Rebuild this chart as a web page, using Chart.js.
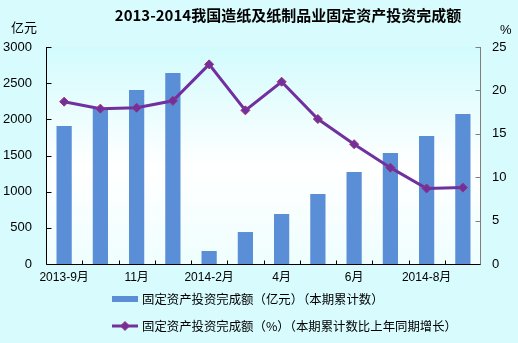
<!DOCTYPE html>
<html>
<head>
<meta charset="utf-8">
<script src="https://cdn.jsdelivr.net/npm/chart.js@4/dist/chart.umd.min.js"></script>
<style>
  html, body { margin: 0; padding: 0; background: #d8fbfd; }
  #wrap { position: relative; width: 518px; height: 343px; background: #d8fbfd; }
  canvas { position: absolute; left: 0; top: 0; }
  .legend { position: absolute; left: 112px; font: 12.4px "Noto Sans CJK SC", sans-serif; color: #000; }
  .legend .row { position: absolute; left: 0; white-space: nowrap; height: 16px; line-height: 16px; }
  .legend .sym { position: absolute; left: 0; top: 0; width: 26px; height: 16px; }
  .legend .txt { position: absolute; left: 30px; top: 0; }
</style>
</head>
<body>
<div id="wrap">
  <canvas id="c" width="518" height="343"></canvas>
  <div class="legend" id="legend"></div>
</div>
<script>
// Months (cumulative reporting periods)
const categories = ['2013-9月', '10月', '11月', '12月', '2014-2月', '3月', '4月', '5月', '6月', '7月', '2014-8月', '9月'];
// Fixed-asset investment completed, cumulative (100 million yuan)
const investment = [1908, 2143, 2405, 2641, 180, 442, 691, 968, 1272, 1535, 1770, 2074];
// Year-on-year growth of cumulative investment (%)
const growth = [18.7, 17.9, 18.0, 18.8, 23.0, 17.7, 21.0, 16.7, 13.8, 11.1, 8.7, 8.8];
const leftTicks = [0, 500, 1000, 1500, 2000, 2500, 3000];
const rightTicks = [0, 5, 10, 15, 20, 25];

const title = '2013-2014我国造纸及纸制品业固定资产投资完成额';
const barLabel = '固定资产投资完成额（亿元）（本期累计数）';
const lineLabel = '固定资产投资完成额（%）（本期累计数比上年同期增长）';
const leftUnit = '亿元';
const rightUnit = '%';

const BAR = '#5a8ed6';
const LINE = '#7030a0';
const MARK = '#a0306c';
const FONT = 'Arial, "Liberation Sans", "Noto Sans CJK SC", sans-serif';

// Plot-area gradient, axis lines with inner tick marks, title and units
const decor = {
  id: 'decor',
  beforeDatasetsDraw(chart) {
    const { ctx, chartArea: a } = chart;
    const g = ctx.createLinearGradient(0, a.top, 0, a.bottom);
    g.addColorStop(0, '#d2fbfd');
    g.addColorStop(0.55, '#ffffff');
    g.addColorStop(1, '#effefe');
    ctx.save();
    ctx.fillStyle = g;
    ctx.fillRect(a.left, a.top, a.right - a.left, a.bottom - a.top);
    ctx.restore();
  },
  afterDraw(chart) {
    const { ctx, chartArea: a, scales } = chart;
    ctx.save();
    ctx.lineWidth = 1;
    const L = Math.round(a.left) + 0.5;
    const R = Math.round(a.right) - 0.5;
    const B = Math.round(a.bottom) + 0.5;
    // left axis
    ctx.strokeStyle = '#000000';
    ctx.beginPath();
    ctx.moveTo(L, a.top);
    ctx.lineTo(L, B);
    leftTicks.forEach(v => {
      const y = Math.round(scales.y.getPixelForValue(v)) + 0.5;
      ctx.moveTo(L, y); ctx.lineTo(L + 5, y);
    });
    ctx.stroke();
    // right axis
    ctx.strokeStyle = '#7f7f7f';
    ctx.beginPath();
    ctx.moveTo(R, a.top);
    ctx.lineTo(R, B);
    rightTicks.forEach(v => {
      const y = Math.round(scales.y1.getPixelForValue(v)) + 0.5;
      ctx.moveTo(R, y); ctx.lineTo(R - 5, y);
    });
    ctx.stroke();
    // bottom axis with ticks between categories
    ctx.strokeStyle = '#000000';
    ctx.beginPath();
    ctx.moveTo(L, B);
    ctx.lineTo(R, B);
    for (let i = 1; i < categories.length; i++) {
      const x = Math.round((scales.x.getPixelForValue(i - 1) + scales.x.getPixelForValue(i)) / 2) + 0.5;
      ctx.moveTo(x, B); ctx.lineTo(x, B - 4);
    }
    ctx.stroke();

    ctx.fillStyle = '#000';
    ctx.textBaseline = 'middle';
    ctx.textAlign = 'center';
    ctx.font = 'bold 15px "Noto Sans CJK SC", sans-serif';
    ctx.fillText(title, 288, 15);
    ctx.font = '13px "Noto Sans CJK SC", sans-serif';
    ctx.textAlign = 'left';
    ctx.fillText(leftUnit, 11, 27);
    ctx.font = '13px ' + FONT;
    ctx.fillText(rightUnit, 500, 30);
    ctx.restore();
  }
};

const chart = new Chart(document.getElementById('c'), {
  data: {
    labels: categories,
    datasets: [
      {
        type: 'line', label: lineLabel, data: growth, yAxisID: 'y1', order: 0,
        borderColor: LINE, borderWidth: 3, pointStyle: 'rectRot', pointRadius: 4.5,
        pointBackgroundColor: LINE, pointBorderColor: MARK, pointBorderWidth: 1,
        tension: 0
      },
      {
        type: 'bar', label: barLabel, data: investment, yAxisID: 'y', order: 1,
        backgroundColor: BAR, barPercentage: 0.42, categoryPercentage: 1
      }
    ]
  },
  options: {
    responsive: false,
    animation: false,
    layout: { padding: { top: 47, bottom: 54, left: 0, right: 0 } },
    plugins: { legend: { display: false }, tooltip: { enabled: false } },
    scales: {
      x: {
        grid: { display: false, drawTicks: false },
        border: { display: false },
        ticks: {
          autoSkip: false, maxRotation: 0, padding: 6,
          color: '#000', font: { family: FONT, size: 12 },
          callback: (v, i) => (i % 2 === 0 ? categories[i] : '')
        },
        afterFit(s) { s.height = 25; }
      },
      y: {
        position: 'left', min: 0, max: 3000,
        grid: { display: false, drawTicks: false },
        border: { display: false },
        afterBuildTicks(s) { s.ticks = leftTicks.map(v => ({ value: v })); },
        ticks: { color: '#000', padding: 14, font: { family: FONT, size: 13 }, callback: v => String(v) },
        afterFit(s) { s.width = 46; }
      },
      y1: {
        position: 'right', min: 0, max: 25,
        grid: { display: false, drawTicks: false },
        border: { display: false },
        afterBuildTicks(s) { s.ticks = rightTicks.map(v => ({ value: v })); },
        ticks: { color: '#000', padding: 11, font: { family: FONT, size: 13 }, callback: v => String(v) },
        afterFit(s) { s.width = 37; }
      }
    }
  },
  plugins: [decor]
});

// Legend rows below the plot, built from the dataset styles
const legend = document.getElementById('legend');
legend.style.top = '291px';
[
  { label: barLabel, kind: 'bar', top: 0 },
  { label: lineLabel, kind: 'line', top: 27 }
].forEach(item => {
  const row = document.createElement('div');
  row.className = 'row';
  row.style.top = item.top + 'px';
  const sym = document.createElement('canvas');
  sym.className = 'sym'; sym.width = 26; sym.height = 16;
  const c = sym.getContext('2d');
  if (item.kind === 'bar') {
    c.fillStyle = BAR; c.fillRect(0, 5, 26, 6);
  } else {
    c.strokeStyle = LINE; c.lineWidth = 3;
    c.beginPath(); c.moveTo(0, 8); c.lineTo(26, 8); c.stroke();
    c.fillStyle = LINE; c.strokeStyle = MARK; c.lineWidth = 1;
    c.beginPath(); c.moveTo(13, 3.5); c.lineTo(17.5, 8); c.lineTo(13, 12.5); c.lineTo(8.5, 8); c.closePath();
    c.fill(); c.stroke();
  }
  const txt = document.createElement('span');
  txt.className = 'txt'; txt.textContent = item.label;
  row.appendChild(sym); row.appendChild(txt);
  legend.appendChild(row);
});
</script>
</body>
</html>
